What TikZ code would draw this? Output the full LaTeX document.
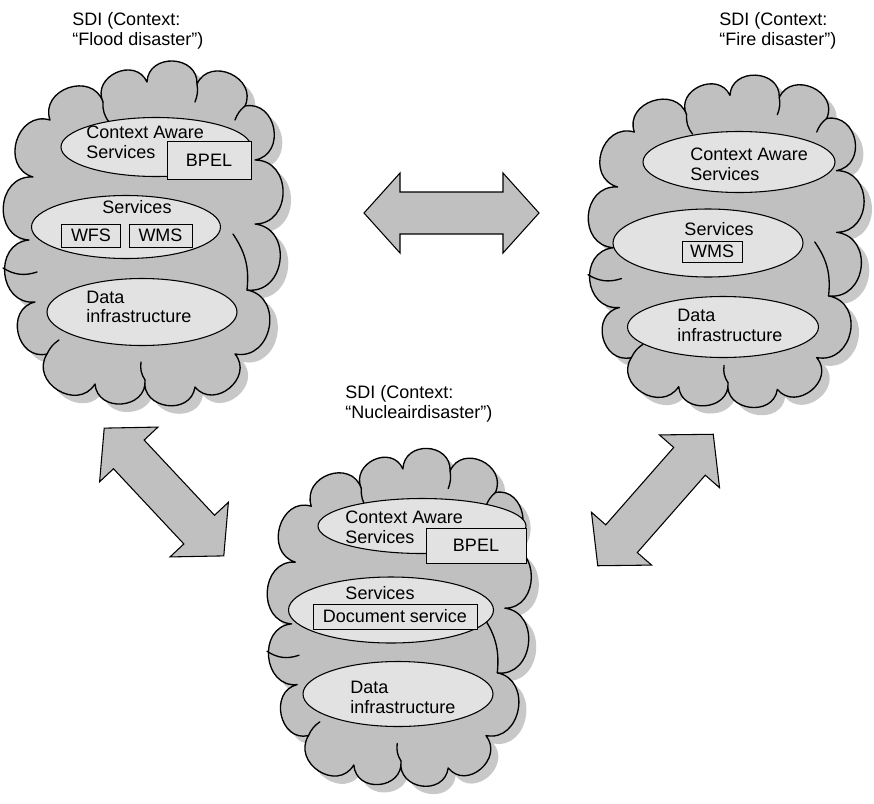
\documentclass[tikz,border=0pt]{standalone}
\usepackage{fontspec}
\setsansfont{Liberation Sans}
\usetikzlibrary{shapes.geometric}
\definecolor{sdiInk}{HTML}{000000}
\definecolor{sdiCloud}{HTML}{C0C0C0}
\definecolor{sdiShadow}{HTML}{C8C8C8}
\definecolor{sdiLayer}{HTML}{E2E2E2}
% outline of one cloud, centre at the origin, 1 unit = 1px
\newcommand{\sdicloudpath}{(-112,55) to[puff] (-95,112) to[puff] (-42,130) to[puff] (2,150)
  to[puff] (52,148) to[puff] (100,126) to[puff] (110,72) to[puff] (110,8)
  to[puff] (102,-58) to[puff] (90,-122) to[puff] (50,-155) to[puff] (0,-148)
  to[puff] (-50,-152) to[puff] (-98,-122) to[puff] (-110,-70) to[puff] (-116,-8)
  to[puff] (-112,55) -- cycle}
\tikzset{
  every picture/.style={font=\sffamily\fontsize{13.5}{14.8}\selectfont, text=sdiInk},
  puff/.style={bend left=90, looseness=1.5},
  sdi cloud/.style={draw=sdiInk, line width=1pt, fill=sdiCloud, line join=round},
  sdi crease/.style={draw=sdiInk, line width=1pt, line cap=round},
  sdi layer/.style={ellipse, draw=sdiInk, line width=0.8pt, fill=sdiLayer, inner sep=0pt},
  sdi box/.style={draw=sdiInk, line width=0.7pt, fill=sdiLayer, inner sep=0pt},
  sdi text/.style={align=left, inner sep=0pt, anchor=west},
  sdi title/.style={align=left, inner sep=0pt, anchor=north west},
  sdi link/.style={draw=sdiInk, line width=0.8pt, fill=sdiCloud, line join=miter}
}
\begin{document}
\begin{tikzpicture}[x=0.75pt,y=0.75pt]
  \useasboundingbox (0,0) rectangle (874,-803);

  % the three SDI clouds (same outline, scaled)
  \foreach \cx/\cy/\sx/\sy in {145/-232/1/1, 728/-240/0.986/0.964, 401/-616/0.944/0.98}{
    \begin{scope}[shift={(\cx,\cy)}, xscale=\sx, yscale=\sy]
      \fill[sdiShadow, shift={(8,-8)}] \sdicloudpath;
      \draw[sdi cloud] \sdicloudpath;
      \draw[sdi crease] (-42,130) to[bend right=20] (-36,110);
      \draw[sdi crease] (52,148) to[bend left=15] (50,130);
      \draw[sdi crease] (100,126) to[bend right=15] (90,112);
      \draw[sdi crease] (88,-2) to[bend left=20] (102,-58);
      \draw[sdi crease] (-142,-36) to[bend right=25] (-108,-40);
      \draw[sdi crease] (0,-148) to[bend left=20] (-4,-130);
      \draw[sdi crease] (-98,-122) to[bend left=15] (-86,-108);
    \end{scope}
  }

  \node[sdi title] (floodTitle) at (72,-12) {SDI (Context:\\“Flood disaster”)};
  \node[sdi title] (fireTitle) at (719,-12) {SDI (Context:\\“Fire disaster”)};
  \node[sdi title] (nuclearTitle) at (345,-385) {SDI (Context:\\“Nucleairdisaster”)};

  % flood
  \node[sdi layer, minimum width=190*0.75pt, minimum height=59*0.75pt] (floodCas) at (156,-147) {};
  \node[sdi box, minimum width=84*0.75pt, minimum height=38*0.75pt] (floodBpel) at (209,-160) {BPEL};
  \node[sdi text] (floodCasText) at (86,-142.5) {Context Aware\\Services};
  \node[sdi layer, minimum width=189*0.75pt, minimum height=63*0.75pt] (floodSvc) at (126,-227) {};
  \node[inner sep=0pt] (floodSvcText) at (137,-207) {Services};
  \node[sdi box, minimum width=59*0.75pt, minimum height=23*0.75pt] (floodWfs) at (91,-235.5) {WFS};
  \node[sdi box, minimum width=63*0.75pt, minimum height=23*0.75pt] (floodWms) at (160.5,-235.5) {WMS};
  \node[sdi layer, minimum width=190*0.75pt, minimum height=67*0.75pt] (floodData) at (142,-312) {};
  \node[sdi text] (floodDataText) at (86,-307) {Data\\infrastructure};

  % fire
  \node[sdi layer, minimum width=192*0.75pt, minimum height=61*0.75pt] (fireCas) at (739,-162) {};
  \node[sdi text] (fireCasText) at (690,-164.5) {Context Aware\\Services};
  \node[sdi layer, minimum width=190*0.75pt, minimum height=68*0.75pt] (fireSvc) at (708,-243) {};
  \node[inner sep=0pt] (fireSvcText) at (719,-229) {Services};
  \node[sdi box, minimum width=60*0.75pt, minimum height=21*0.75pt] (fireWms) at (712,-251.5) {WMS};
  \node[sdi layer, minimum width=191*0.75pt, minimum height=61*0.75pt] (fireData) at (723,-327) {};
  \node[sdi text] (fireDataText) at (677,-325.5) {Data\\infrastructure};

  % nuclear
  \node[sdi layer, minimum width=208*0.75pt, minimum height=55*0.75pt] (nuclearCas) at (422,-526) {};
  \node[sdi box, minimum width=100*0.75pt, minimum height=35*0.75pt] (nuclearBpel) at (476,-545.5) {BPEL};
  \node[sdi text] (nuclearCasText) at (345,-527.5) {Context Aware\\Services};
  \node[sdi layer, minimum width=205*0.75pt, minimum height=66*0.75pt] (nuclearSvc) at (391,-610) {};
  \node[inner sep=0pt] (nuclearSvcText) at (380,-593) {Services};
  \node[sdi box, minimum width=164*0.75pt, minimum height=25*0.75pt] (nuclearDoc) at (395,-616.5) {Document service};
  \node[sdi layer, minimum width=190*0.75pt, minimum height=65*0.75pt] (nuclearData) at (398,-694) {};
  \node[sdi text] (nuclearDataText) at (350,-697.5) {Data\\infrastructure};

  % double block arrows between the clouds
  \foreach \cx/\cy/\ang in {451.5/-213/0, 164/-492/-46.9, 655.5/-500/48.7}{
    \draw[sdi link, shift={(\cx,\cy)}, rotate=\ang]
      (-87.5,0) -- (-51.5,40) -- (-51.5,21) -- (51.5,21) -- (51.5,40)
      -- (87.5,0) -- (51.5,-40) -- (51.5,-21) -- (-51.5,-21) -- (-51.5,-40) -- cycle;
  }
\end{tikzpicture}
\end{document}
